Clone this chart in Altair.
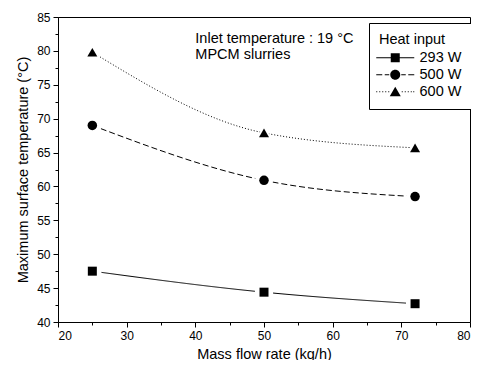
import altair as alt
import pandas as pd

series = ["293 W", "500 W", "600 W"]
flow = [25, 50, 72]
t293 = [47.5, 44.4, 42.7]
t500 = [69.0, 60.9, 58.5]
t600 = [79.8, 67.9, 65.7]

rows = []
for s, vals in zip(series, [t293, t500, t600]):
    for f, v in zip(flow, vals):
        rows.append({"series": s, "flow": f, "temp": v})
df = pd.DataFrame(rows)

notes = pd.DataFrame({
    "x": [40.0, 40.0],
    "y": [81.75, 79.4],
    "text": ["Inlet temperature : 19 °C", "MPCM slurries"],
})

FONT = "Liberation Sans"
dash_range = [[1, 0], [6, 3], [1, 2]]
shape_range = ["square", "circle", "triangle-up"]


def seg(a, b, h=0.1):
    return f"M{a},{-h}L{b},{-h}L{b},{h}L{a},{h}Z"


# legend glyphs: line sample (as thin filled bars) + marker, in symbol units
solid = seg(-3.8, 3.8)
dashed = "".join(seg(a, b) for a, b in [(-3.8, -2.6), (-2.1, -1.2), (1.2, 2.1), (2.6, 3.8)])
dotted = "".join(seg(p, p + 0.2) for p in [-3.8, -3.2, -2.6, -2.0, -1.4, 1.3, 1.9, 2.5, 3.1, 3.6])
legend_paths = [
    solid + "M-0.9,-0.9L0.9,-0.9L0.9,0.9L-0.9,0.9Z",
    dashed + "M1,0A1,1,0,1,1,-1,0A1,1,0,1,1,1,0Z",
    dotted + "M0,-1L1.1,0.9L-1.1,0.9Z",
]

xscale = alt.Scale(domain=[20, 80], nice=False)
yscale = alt.Scale(domain=[40, 85], nice=False)

xaxis = alt.Axis(
    values=list(range(20, 81, 5)),
    labelExpr="datum.value % 10 === 0 ? datum.label : ''",
    tickSize={"condition": {"test": "datum.value % 10 === 0", "value": 5}, "value": 3},
    title="Mass flow rate (kg/h)",
    grid=False,
    labelFontSize=12, titleFontSize=14.5, labelPadding=3, titlePadding=6,
)
yaxis = alt.Axis(
    values=[40 + 2.5 * i for i in range(19)],
    labelExpr="datum.value % 5 === 0 ? datum.label : ''",
    tickSize={"condition": {"test": "datum.value % 5 === 0", "value": 5}, "value": 3},
    title="Maximum surface temperature (°C)",
    grid=False,
    labelFontSize=12, titleFontSize=14.5, labelPadding=3, titlePadding=6,
)

base = alt.Chart(df)
x = alt.X("flow:Q", scale=xscale, axis=xaxis)
y = alt.Y("temp:Q", scale=yscale, axis=yaxis)

lines = base.mark_line(interpolate="monotone", color="black", strokeWidth=1).encode(
    x=x, y=y,
    strokeDash=alt.StrokeDash("series:N", scale=alt.Scale(domain=series, range=dash_range), legend=None),
    detail="series:N",
)

halo = base.mark_point(filled=True, fill="white", opacity=1).encode(
    x=x, y=y,
    shape=alt.Shape("series:N", scale=alt.Scale(domain=series, range=shape_range), legend=None),
    size=alt.Size("series:N", scale=alt.Scale(domain=series, range=[330, 330, 380]), legend=None),
)

pts = base.mark_point(filled=True, fill="black", opacity=1).encode(
    x=x, y=y,
    shape=alt.Shape("series:N", scale=alt.Scale(domain=series, range=shape_range), legend=None),
    size=alt.Size("series:N", scale=alt.Scale(domain=series, range=[81, 100, 130]), legend=None),
)

legend_layer = base.transform_filter("false").mark_point(
    filled=True, fill="black", opacity=1, size=100
).encode(
    x=x, y=y,
    shape=alt.Shape(
        "series:N",
        scale=alt.Scale(domain=series, range=legend_paths),
        legend=alt.Legend(
            title="Heat input", orient="none", legendX=311, legendY=6,
            strokeColor="black", padding=10, fillColor="white",
            titleFontSize=14.5, titleFontWeight="normal", labelFontSize=14.5,
            titlePadding=3, rowPadding=2, symbolSize=100, symbolOffset=9,
            labelOffset=17, symbolFillColor="black", symbolStrokeWidth=0,
            symbolOpacity=1,
        ),
    ),
)

text = alt.Chart(notes).mark_text(align="left", baseline="middle", fontSize=14.5, font=FONT, color="black").encode(
    x=alt.X("x:Q", scale=xscale, axis=xaxis),
    y=alt.Y("y:Q", scale=yscale, axis=yaxis),
    text="text:N",
)

chart = alt.layer(lines, halo, pts, legend_layer, text).resolve_scale(
    shape="independent", strokeDash="independent", size="independent"
).properties(
    width=412, height=305,
    padding={"left": 50, "top": 9, "right": 1, "bottom": 38},
    autosize=alt.AutoSizeParams(type="none"),
).configure(font=FONT).configure_view(
    stroke="black", strokeWidth=1
).configure_axis(
    domainColor="black", tickColor="black", labelColor="black", titleColor="black",
    labelFont=FONT, titleFont=FONT, titleFontWeight="normal",
).configure_legend(
    labelFont=FONT, titleFont=FONT, labelColor="black", titleColor="black",
)

chart.save("out.html", embed_options={"renderer": "svg", "actions": False})
